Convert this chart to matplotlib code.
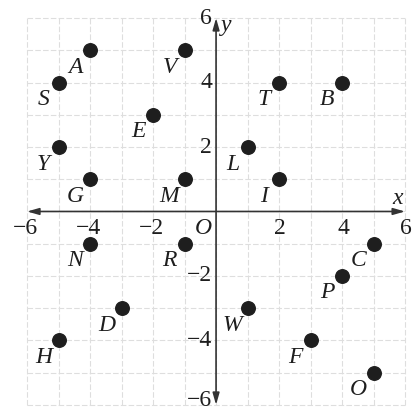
import matplotlib
matplotlib.use("Agg")
import matplotlib.pyplot as plt

# Data
labels = ["A", "V", "S", "T", "B", "E", "Y", "L", "G", "M", "I",
          "N", "R", "C", "P", "D", "W", "H", "F", "O"]
xs = [-4, -1, -5, 2, 4, -2, -5, 1, -4, -1, 2,
      -4, -1, 5, 4, -3, 1, -5, 3, 5]
ys = [5, 5, 4, 4, 4, 3, 2, 2, 1, 1, 1,
      -1, -1, -1, -2, -3, -3, -4, -4, -5]
x_ticks = [-6, -4, -2, 2, 4, 6]
y_ticks = [6, 4, 2, -2, -4, -6]

SERIF = ["Liberation Serif", "DejaVu Serif"]
INK = "#1e1e1e"

fig = plt.figure(figsize=(4.17, 4.12), dpi=100)
ax = fig.add_axes([0, 0, 1, 1])
ax.set_xlim(-6.86, 6.38)
ax.set_ylim(-6.22, 6.56)
ax.axis("off")

# grid
for g in range(-6, 7):
    ax.plot([g, g], [-6, 6], color="#dedede", lw=0.8, ls=(0, (5, 2)), zorder=0)
    ax.plot([-6, 6], [g, g], color="#dedede", lw=0.8, ls=(0, (5, 2)), zorder=0)

# axes with arrows
arrow = dict(arrowstyle="<|-|>,head_length=0.7,head_width=0.2", color="#333333",
             lw=1.2, shrinkA=0, shrinkB=0)
ax.annotate("", xy=(6.0, 0), xytext=(-6.0, 0), arrowprops=arrow, zorder=2)
ax.annotate("", xy=(0, 6.0), xytext=(0, -6.0), arrowprops=arrow, zorder=2)

# tick labels
for t in x_ticks:
    txt = f"{t}".replace("-", "\u2212")
    ax.annotate(txt, (t, 0), xytext=(-2 if t < 0 else 1, -17), textcoords="offset pixels",
                ha="center", va="center", fontsize=17, family=SERIF, color=INK)
for t in y_ticks:
    txt = f"{t}".replace("-", "\u2212")
    dy = 4 if t == -6 else 0
    ax.annotate(txt, (0, t), xytext=(-4, dy), textcoords="offset pixels",
                ha="right", va="center", fontsize=17, family=SERIF, color=INK)
ax.annotate("O", (0, 0), xytext=(-13, -17), textcoords="offset pixels",
            ha="center", va="center", fontsize=17, family=SERIF, style="italic", color=INK)
ax.annotate("x", (6, 0), xytext=(-7, 13), textcoords="offset pixels",
            ha="center", va="center", fontsize=17, family=SERIF, style="italic", color=INK)
ax.annotate("y", (0, 6), xytext=(10, -7), textcoords="offset pixels",
            ha="center", va="center", fontsize=17, family=SERIF, style="italic", color=INK)

# points
ax.scatter(xs, ys, s=95, color=INK, zorder=3)
for lab, x, y in zip(labels, xs, ys):
    ax.annotate(lab, (x, y), xytext=(-15, -17), textcoords="offset pixels",
                ha="center", va="center", fontsize=17, family=SERIF,
                style="italic", color=INK)

fig.savefig("out.png", dpi=100)
